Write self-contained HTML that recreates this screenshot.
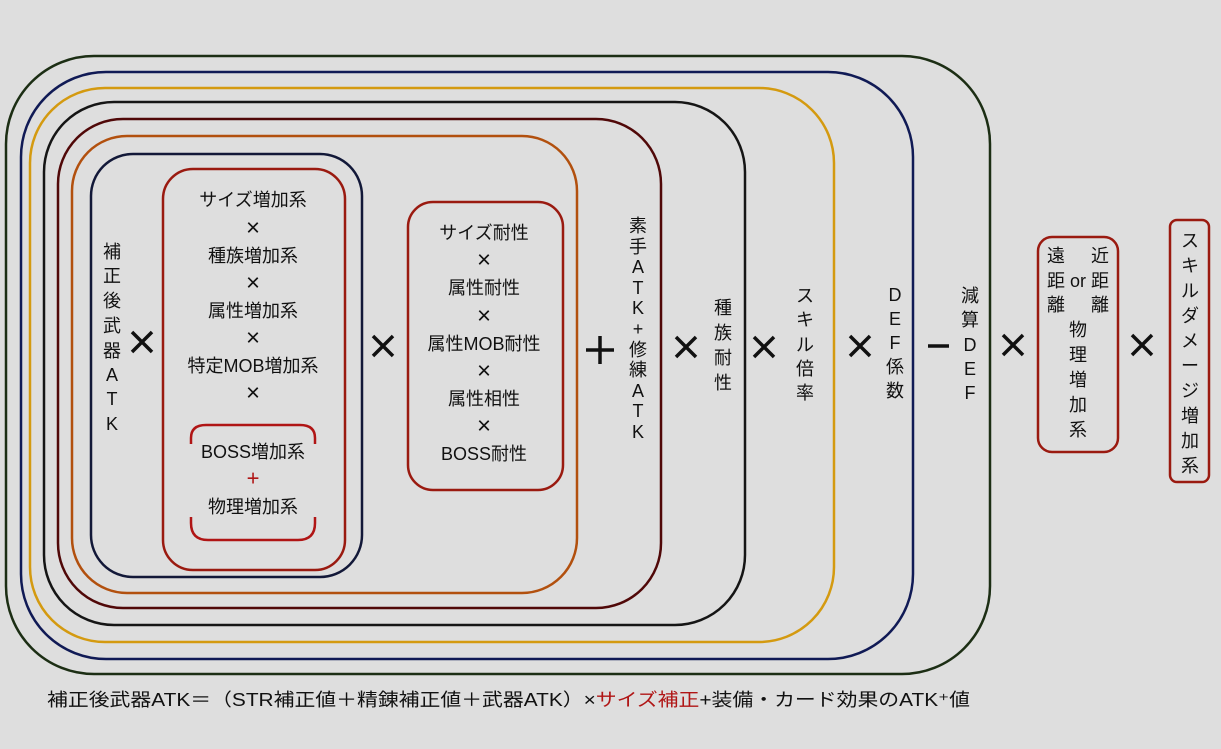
<!DOCTYPE html>
<html><head><meta charset="utf-8"><style>
html,body{margin:0;padding:0;background:#dedede;}
svg{display:block;}
text{font-family:"Liberation Sans","Noto Sans CJK JP",sans-serif;font-size:18px;fill:#111;dominant-baseline:central;text-anchor:middle;}
text.x{font-size:24px;}
</style></head><body>
<svg width="1221" height="749" viewBox="0 0 1221 749" xmlns="http://www.w3.org/2000/svg">
<rect width="1221" height="749" fill="#dedede"/>
<g fill="none" stroke-width="2.5">
<rect x="6" y="56" width="984" height="618" rx="88" stroke="#1c2e14"/>
<rect x="21" y="72" width="892" height="587" rx="85" stroke="#101a55"/>
<rect x="30" y="88" width="804" height="554" rx="75" stroke="#d49a10"/>
<rect x="44" y="102" width="701" height="523" rx="70" stroke="#151515"/>
<rect x="58" y="119" width="603" height="489" rx="65" stroke="#500808"/>
<rect x="72" y="136" width="505" height="457" rx="55" stroke="#b2500e"/>
<rect x="91" y="154" width="271" height="423" rx="42" stroke="#121838"/>
<rect x="163" y="169" width="182" height="401" rx="30" stroke="#9a1a10"/>
<rect x="408" y="202" width="155" height="288" rx="25" stroke="#9a1a10"/>
<path d="M191 444 V438 Q191 425 206 425 H300 Q315 425 315 438 V444" stroke="#b01515"/>
<path d="M191 517 V523 Q191 540 208 540 H298 Q315 540 315 523 V517" stroke="#b01515"/>
<rect x="1038" y="237" width="80" height="215" rx="14" stroke="#9a1a10"/>
<rect x="1170" y="220" width="39" height="262" rx="7" stroke="#9a1a10"/>
</g>
<g stroke="#111" stroke-width="3.5">
<path d="M132 332 L152 352 M152 332 L132 352"/>
<path d="M373 336 L393 356 M393 336 L373 356"/>
<path d="M676 337 L696 357 M696 337 L676 357"/>
<path d="M754 337 L774 357 M774 337 L754 357"/>
<path d="M850 336 L870 356 M870 336 L850 356"/>
<path d="M1003 335 L1023 355 M1023 335 L1003 355"/>
<path d="M1132 335 L1152 355 M1152 335 L1132 355"/>
<path d="M586 350 H614 M600 336 V364"/>
<path d="M928 346 H949"/>
</g>
<text x="253" y="200">サイズ増加系</text>
<text class="x" x="253" y="228">×</text>
<text x="253" y="256">種族増加系</text>
<text class="x" x="253" y="283">×</text>
<text x="253" y="311">属性増加系</text>
<text class="x" x="253" y="338">×</text>
<text x="253" y="366">特定MOB増加系</text>
<text class="x" x="253" y="393">×</text>
<text x="253" y="452">BOSS増加系</text>
<text x="253" y="478" style="fill:#b01515;font-size:22px">+</text>
<text x="253" y="507">物理増加系</text>
<text x="484" y="233">サイズ耐性</text>
<text class="x" x="484" y="260">×</text>
<text x="484" y="288">属性耐性</text>
<text class="x" x="484" y="316">×</text>
<text x="484" y="344">属性MOB耐性</text>
<text class="x" x="484" y="371">×</text>
<text x="484" y="399">属性相性</text>
<text class="x" x="484" y="426">×</text>
<text x="484" y="454">BOSS耐性</text>
<g>
<text x="112" y="252">補</text><text x="112" y="276">正</text><text x="112" y="301">後</text><text x="112" y="326">武</text><text x="112" y="351">器</text><text x="112" y="375">A</text><text x="112" y="399">T</text><text x="112" y="424">K</text>
</g>
<g>
<text x="638" y="226">素</text><text x="638" y="247">手</text><text x="638" y="267">A</text><text x="638" y="288">T</text><text x="638" y="308">K</text><text x="638" y="329">+</text><text x="638" y="350">修</text><text x="638" y="370">練</text><text x="638" y="391">A</text><text x="638" y="411">T</text><text x="638" y="432">K</text>
</g>
<g>
<text x="723" y="308">種</text><text x="723" y="333">族</text><text x="723" y="358">耐</text><text x="723" y="383">性</text>
</g>
<g>
<text x="805" y="296">ス</text><text x="805" y="320">キ</text><text x="805" y="345">ル</text><text x="805" y="369">倍</text><text x="805" y="393">率</text>
</g>
<g>
<text x="895" y="295">D</text><text x="895" y="319">E</text><text x="895" y="343">F</text><text x="895" y="367">係</text><text x="895" y="391">数</text>
</g>
<g>
<text x="970" y="296">減</text><text x="970" y="320">算</text><text x="970" y="345">D</text><text x="970" y="369">E</text><text x="970" y="393">F</text>
</g>
<g>
<text x="1056" y="256">遠</text><text x="1100" y="256">近</text>
<text x="1056" y="281">距</text><text x="1078" y="281">or</text><text x="1100" y="281">距</text>
<text x="1056" y="305">離</text><text x="1100" y="305">離</text>
<text x="1078" y="330">物</text><text x="1078" y="355">理</text><text x="1078" y="380">増</text><text x="1078" y="405">加</text><text x="1078" y="430">系</text>
</g>
<g>
<text x="1190" y="241">ス</text><text x="1190" y="266">キ</text><text x="1190" y="291">ル</text><text x="1190" y="316">ダ</text><text x="1190" y="341">メ</text><text x="1190" y="366">ー</text><text x="1190" y="391">ジ</text><text x="1190" y="416">増</text><text x="1190" y="441">加</text><text x="1190" y="466">系</text>
</g>
<text x="47" y="700" style="text-anchor:start" textLength="923" lengthAdjust="spacingAndGlyphs">補正後武器ATK＝（STR補正値＋精錬補正値＋武器ATK）×<tspan style="fill:#b01515">サイズ補正</tspan>+装備・カード効果のATK⁺値</text>
</svg>
</body></html>
